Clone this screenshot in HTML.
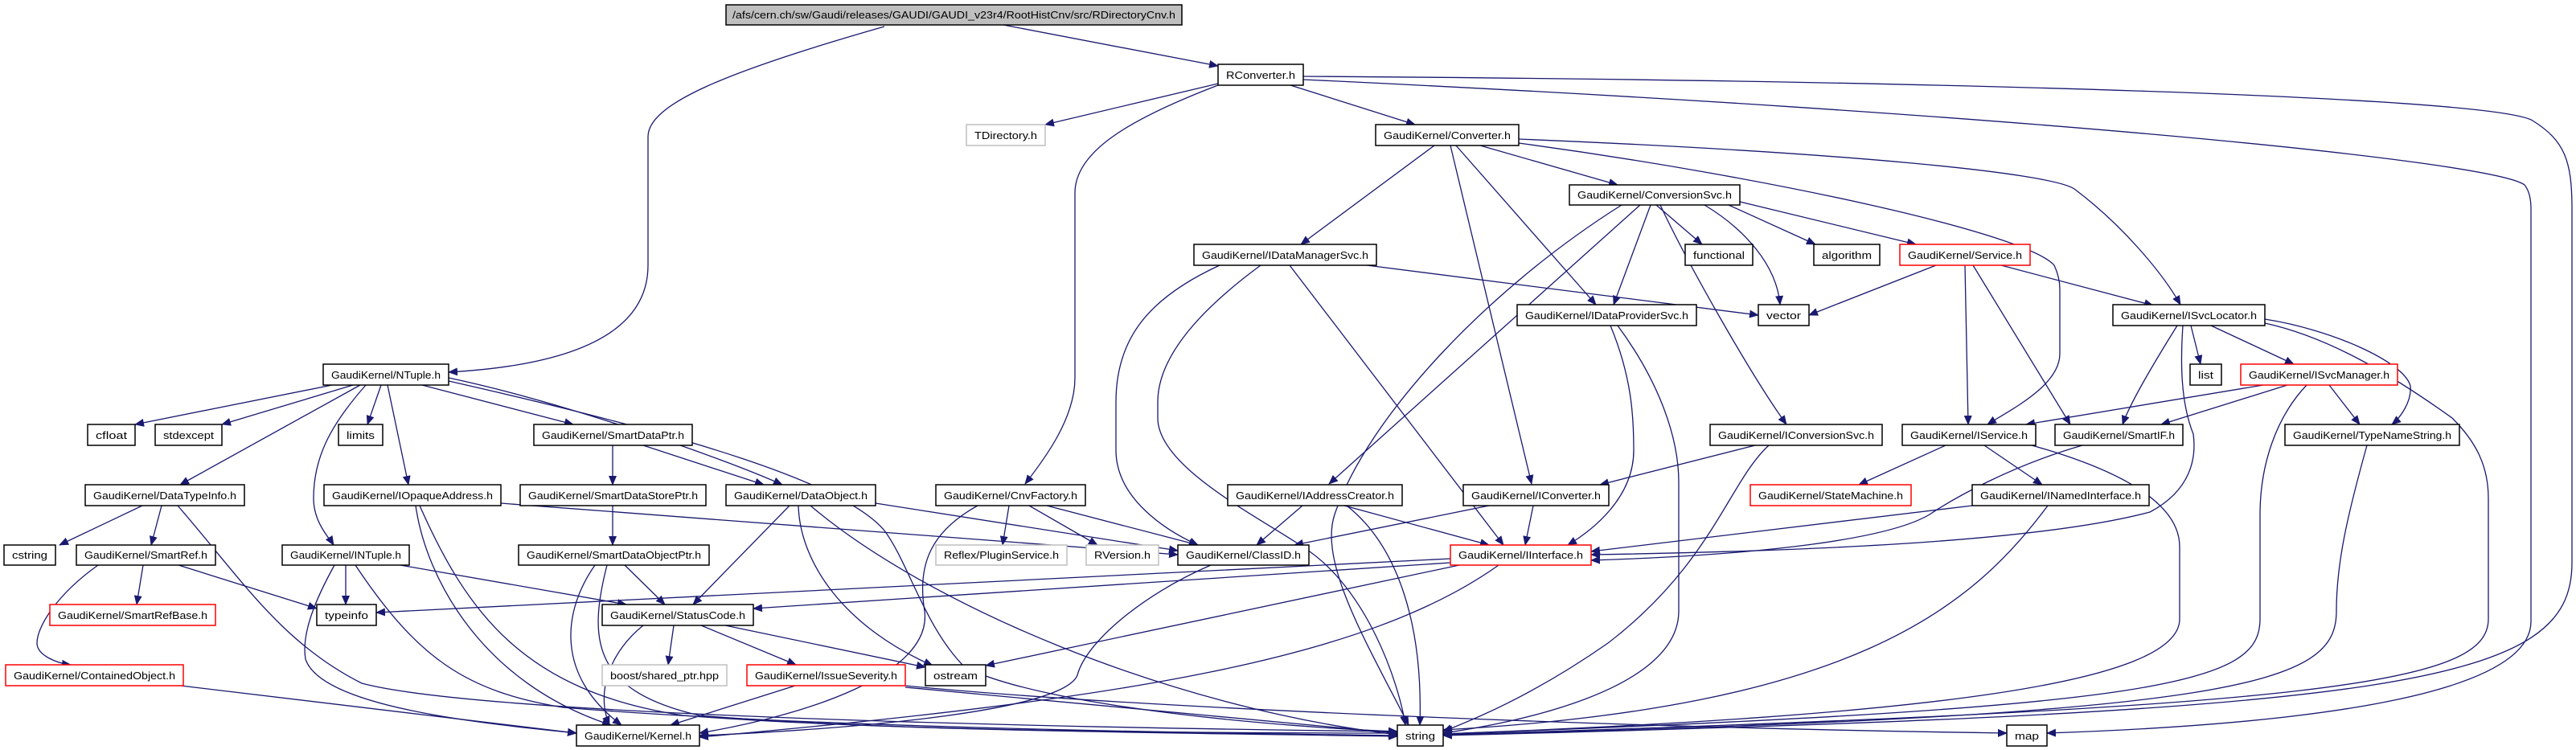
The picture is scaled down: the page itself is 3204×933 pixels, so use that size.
<!DOCTYPE html>
<html><head><meta charset="utf-8"><style>
html,body{margin:0;padding:0;background:#fff;}
svg{display:block;}
text{font-family:"Liberation Sans",sans-serif;font-size:13px;fill:#000;}
</style></head><body>
<svg width="3204" height="933" viewBox="0 0 3204 933" xmlns="http://www.w3.org/2000/svg">
<defs>
<marker id="a" markerWidth="12" markerHeight="10" refX="11" refY="5" orient="auto" markerUnits="userSpaceOnUse">
<path d="M0,0 L12,5 L0,10 Z" fill="#191970"/>
</marker>
</defs>
<g fill="none" stroke="#191970" stroke-width="1.3" marker-end="url(#a)">
<path d="M1248,31 L1515,82"/>
<path d="M1100,33 C900,90 806,130 806,170 L806,330 C806,420 700,455 558,463"/>
<path d="M1515,104 L1300,155"/>
<path d="M1605,106 L1760,155"/>
<path d="M1515,106 C1400,150 1337,190 1337,240 L1337,470 C1337,520 1300,570 1275,602"/>
<path d="M1621,95 C2400,100 3100,120 3150,150 C3190,175 3199,200 3199,260 L3199,700 C3199,850 3000,885 1795,915"/>
<path d="M1621,99 C2500,140 3100,200 3140,230 Q3148,240 3148,260 L3148,773 C3148,860 2900,900 2546,912"/>
<path d="M1841,181 L2012,230"/>
<path d="M1784,181 L1618,304"/>
<path d="M1811,181 L1985,379"/>
<path d="M1804,181 L1905,602"/>
<path d="M1889,173 C2300,190 2550,215 2580,235 C2640,280 2690,340 2712,379"/>
<path d="M1889,178 C2200,220 2520,290 2555,330 Q2562,345 2562,360 L2562,440 C2562,480 2500,510 2472,528"/>
<path d="M2060,255 L2117,304"/>
<path d="M2150,255 L2258,304"/>
<path d="M2160,250 L2383,304"/>
<path d="M2120,255 C2170,285 2210,330 2214,379"/>
<path d="M2053,255 L2007,379"/>
<path d="M2040,255 L1653,602"/>
<path d="M2065,255 C2100,330 2180,470 2222,528"/>
<path d="M2017,255 C1850,360 1700,520 1660,640 C1640,700 1700,800 1752,902"/>
<path d="M1700,330 L2187,392"/>
<path d="M1517,330 C1430,370 1388,420 1388,500 L1388,560 C1388,620 1450,660 1490,678"/>
<path d="M1568,330 C1500,380 1440,440 1440,500 L1440,520 C1440,580 1560,640 1620,680 C1700,730 1740,850 1748,902"/>
<path d="M1604,330 L1870,678"/>
<path d="M2003,405 C2030,470 2032,520 2032,560 C2032,620 1980,660 1950,678"/>
<path d="M2012,405 C2060,470 2088,540 2088,600 L2088,760 C2088,860 1880,900 1795,912"/>
<path d="M2408,330 L2250,392"/>
<path d="M2489,330 L2678,380"/>
<path d="M2444,330 L2448,528"/>
<path d="M2454,330 L2575,528"/>
<path d="M2725,405 L2737,453"/>
<path d="M2750,405 L2853,453"/>
<path d="M2708,405 C2680,450 2650,500 2640,528"/>
<path d="M2715,405 C2712,450 2712,500 2728,540 C2732,570 2725,610 2674,637 C2550,670 2300,685 1979,690"/>
<path d="M2817,397 C2900,410 2990,450 2998,480 C3000,500 2985,520 2975,528"/>
<path d="M2817,402 C2900,420 2980,470 3050,520 C3080,550 3095,580 3095,620 L3095,770 C3095,850 2900,880 1795,914"/>
<path d="M2815,479 L2520,528"/>
<path d="M2845,479 L2688,528"/>
<path d="M2897,479 L2935,528"/>
<path d="M2869,479 C2830,520 2811,580 2811,640 L2811,770 C2811,850 2700,880 1795,913"/>
<path d="M2183,554 L1990,603"/>
<path d="M2200,554 C2150,600 2130,700 2000,800 C1900,870 1820,900 1795,910"/>
<path d="M2420,554 L2312,603"/>
<path d="M2468,554 L2540,603"/>
<path d="M2527,554 C2620,580 2711,620 2711,680 L2711,770 C2711,850 2400,890 1795,913"/>
<path d="M2590,554 C2500,580 2430,620 2400,640 C2350,670 2200,690 1979,697"/>
<path d="M2453,629 L1979,686"/>
<path d="M2547,629 C2450,760 2300,880 1795,908"/>
<path d="M2944,554 C2920,640 2906,700 2906,760 C2906,850 2800,890 1795,914"/>
<path d="M1852,629 L1610,678"/>
<path d="M1907,629 L1897,678"/>
<path d="M1620,629 L1563,678"/>
<path d="M1672,629 L1852,678"/>
<path d="M1675,629 C1740,680 1770,780 1766,902"/>
<path d="M1255,629 L1247,678"/>
<path d="M1280,629 L1365,678"/>
<path d="M1302,629 L1490,678"/>
<path d="M1216,629 C1160,660 1140,700 1150,760 C1160,840 1000,890 870,912"/>
<path d="M1506,703 C1420,740 1350,800 1340,840 C1320,890 1000,910 870,915"/>
<path d="M1804,695 L468,762"/>
<path d="M1804,700 L937,757"/>
<path d="M1815,703 L1226,828"/>
<path d="M1864,703 C1700,820 1400,870 870,917"/>
<path d="M413,479 L168,528"/>
<path d="M439,479 L276,528"/>
<path d="M448,479 L224,603"/>
<path d="M455,479 C410,530 390,570 390,620 C390,650 410,670 415,678"/>
<path d="M474,479 L457,528"/>
<path d="M482,479 L508,603"/>
<path d="M525,479 L713,528"/>
<path d="M558,470 C700,500 900,570 973,603"/>
<path d="M558,474 C850,540 1050,600 1100,660 C1130,700 1150,780 1200,830 C1300,880 1600,905 1738,910"/>
<path d="M762,554 L762,603"/>
<path d="M800,554 L950,603"/>
<path d="M762,629 L762,678"/>
<path d="M177,629 L74,678"/>
<path d="M201,629 L188,678"/>
<path d="M221,629 C300,720 350,800 450,850 C600,890 1300,905 1738,910"/>
<path d="M623,626 L1465,690"/>
<path d="M517,629 C530,720 600,850 760,902"/>
<path d="M522,629 C580,760 650,860 850,890 C1100,910 1500,912 1738,912"/>
<path d="M982,629 L862,752"/>
<path d="M1089,626 L1465,685"/>
<path d="M993,629 C995,700 1050,780 1160,828"/>
<path d="M1008,629 C1150,750 1450,880 1738,914"/>
<path d="M178,703 L170,752"/>
<path d="M222,703 L394,757"/>
<path d="M122,703 C70,740 46,780 46,800 C46,815 70,825 88,827"/>
<path d="M430,703 L430,752"/>
<path d="M498,703 L779,752"/>
<path d="M416,703 C390,750 375,790 380,820 C400,880 600,900 717,912"/>
<path d="M442,703 C520,820 580,860 700,880 C1000,905 1500,912 1738,915"/>
<path d="M777,703 L827,752"/>
<path d="M740,703 C700,760 690,840 773,902"/>
<path d="M755,703 C730,800 740,860 870,890 C1100,910 1500,912 1738,916"/>
<path d="M838,778 L831,827"/>
<path d="M872,778 L990,827"/>
<path d="M902,778 L1151,830"/>
<path d="M800,778 C760,810 740,860 758,902"/>
<path d="M989,853 L834,902"/>
<path d="M1126,853 C1400,880 2000,905 2496,912"/>
<path d="M1126,855 L1738,912"/>
<path d="M225,853 L717,912"/>
</g>
<g stroke-width="1.5">
<rect x="903" y="6" width="567" height="25" fill="#bfbfbf" stroke="#000"/>
<text x="911" y="23" textLength="551" lengthAdjust="spacingAndGlyphs">/afs/cern.ch/sw/Gaudi/releases/GAUDI/GAUDI_v23r4/RootHistCnv/src/RDirectoryCnv.h</text>
</g>
<g fill="#fff" stroke="#000" stroke-width="1.5">
<rect x="1515" y="80" width="106" height="26"/>
<rect x="1711" y="155" width="178" height="26"/>
<rect x="1952" y="230" width="212" height="25"/>
<rect x="1485" y="304" width="227" height="26"/>
<rect x="2096" y="304" width="84" height="26"/>
<rect x="2256" y="304" width="82" height="26"/>
<rect x="1887" y="379" width="223" height="26"/>
<rect x="2187" y="379" width="63" height="26"/>
<rect x="2628" y="379" width="189" height="26"/>
<rect x="402" y="453" width="156" height="26"/>
<rect x="2724" y="453" width="39" height="26"/>
<rect x="109" y="528" width="59" height="26"/>
<rect x="193" y="528" width="83" height="26"/>
<rect x="421" y="528" width="55" height="26"/>
<rect x="664" y="528" width="197" height="26"/>
<rect x="2127" y="528" width="214" height="26"/>
<rect x="2366" y="528" width="166" height="26"/>
<rect x="2556" y="528" width="159" height="26"/>
<rect x="2842" y="528" width="217" height="26"/>
<rect x="106" y="603" width="198" height="26"/>
<rect x="403" y="603" width="220" height="26"/>
<rect x="647" y="603" width="231" height="26"/>
<rect x="903" y="603" width="186" height="26"/>
<rect x="1164" y="603" width="186" height="26"/>
<rect x="1527" y="603" width="217" height="26"/>
<rect x="1820" y="603" width="181" height="26"/>
<rect x="2453" y="603" width="220" height="26"/>
<rect x="5" y="678" width="64" height="25"/>
<rect x="95" y="678" width="173" height="25"/>
<rect x="351" y="678" width="158" height="25"/>
<rect x="645" y="678" width="237" height="25"/>
<rect x="1465" y="678" width="163" height="25"/>
<rect x="394" y="752" width="74" height="26"/>
<rect x="749" y="752" width="188" height="26"/>
<rect x="1151" y="827" width="75" height="26"/>
<rect x="717" y="902" width="153" height="26"/>
<rect x="1738" y="902" width="57" height="26"/>
<rect x="2496" y="902" width="50" height="26"/>
</g>
<g fill="#fff" stroke="#ff0000" stroke-width="1.5">
<rect x="2363" y="304" width="162" height="26"/>
<rect x="2787" y="453" width="195" height="26"/>
<rect x="2177" y="603" width="200" height="26"/>
<rect x="1804" y="678" width="175" height="25"/>
<rect x="62" y="752" width="206" height="26"/>
<rect x="7" y="827" width="221" height="26"/>
<rect x="929" y="827" width="197" height="26"/>
</g>
<g fill="#fff" stroke="#bfbfbf" stroke-width="1.5">
<rect x="1202" y="155" width="98" height="26"/>
<rect x="1164" y="678" width="163" height="25"/>
<rect x="1351" y="678" width="90" height="25"/>
<rect x="749" y="827" width="155" height="26"/>
</g>
<g>
<text x="1525" y="98" textLength="86" lengthAdjust="spacingAndGlyphs">RConverter.h</text>
<text x="1212" y="173" textLength="78" lengthAdjust="spacingAndGlyphs">TDirectory.h</text>
<text x="1721" y="173" textLength="158" lengthAdjust="spacingAndGlyphs">GaudiKernel/Converter.h</text>
<text x="1962" y="247" textLength="192" lengthAdjust="spacingAndGlyphs">GaudiKernel/ConversionSvc.h</text>
<text x="1495" y="322" textLength="207" lengthAdjust="spacingAndGlyphs">GaudiKernel/IDataManagerSvc.h</text>
<text x="2106" y="322" textLength="64" lengthAdjust="spacingAndGlyphs">functional</text>
<text x="2266" y="322" textLength="62" lengthAdjust="spacingAndGlyphs">algorithm</text>
<text x="2373" y="322" textLength="142" lengthAdjust="spacingAndGlyphs">GaudiKernel/Service.h</text>
<text x="1897" y="397" textLength="203" lengthAdjust="spacingAndGlyphs">GaudiKernel/IDataProviderSvc.h</text>
<text x="2197" y="397" textLength="43" lengthAdjust="spacingAndGlyphs">vector</text>
<text x="2638" y="397" textLength="169" lengthAdjust="spacingAndGlyphs">GaudiKernel/ISvcLocator.h</text>
<text x="412" y="471" textLength="136" lengthAdjust="spacingAndGlyphs">GaudiKernel/NTuple.h</text>
<text x="2734" y="471" textLength="19" lengthAdjust="spacingAndGlyphs">list</text>
<text x="2797" y="471" textLength="175" lengthAdjust="spacingAndGlyphs">GaudiKernel/ISvcManager.h</text>
<text x="119" y="546" textLength="39" lengthAdjust="spacingAndGlyphs">cfloat</text>
<text x="203" y="546" textLength="63" lengthAdjust="spacingAndGlyphs">stdexcept</text>
<text x="431" y="546" textLength="35" lengthAdjust="spacingAndGlyphs">limits</text>
<text x="674" y="546" textLength="177" lengthAdjust="spacingAndGlyphs">GaudiKernel/SmartDataPtr.h</text>
<text x="2137" y="546" textLength="194" lengthAdjust="spacingAndGlyphs">GaudiKernel/IConversionSvc.h</text>
<text x="2376" y="546" textLength="146" lengthAdjust="spacingAndGlyphs">GaudiKernel/IService.h</text>
<text x="2566" y="546" textLength="139" lengthAdjust="spacingAndGlyphs">GaudiKernel/SmartIF.h</text>
<text x="2852" y="546" textLength="197" lengthAdjust="spacingAndGlyphs">GaudiKernel/TypeNameString.h</text>
<text x="116" y="621" textLength="178" lengthAdjust="spacingAndGlyphs">GaudiKernel/DataTypeInfo.h</text>
<text x="413" y="621" textLength="200" lengthAdjust="spacingAndGlyphs">GaudiKernel/IOpaqueAddress.h</text>
<text x="657" y="621" textLength="211" lengthAdjust="spacingAndGlyphs">GaudiKernel/SmartDataStorePtr.h</text>
<text x="913" y="621" textLength="166" lengthAdjust="spacingAndGlyphs">GaudiKernel/DataObject.h</text>
<text x="1174" y="621" textLength="166" lengthAdjust="spacingAndGlyphs">GaudiKernel/CnvFactory.h</text>
<text x="1537" y="621" textLength="197" lengthAdjust="spacingAndGlyphs">GaudiKernel/IAddressCreator.h</text>
<text x="1830" y="621" textLength="161" lengthAdjust="spacingAndGlyphs">GaudiKernel/IConverter.h</text>
<text x="2187" y="621" textLength="180" lengthAdjust="spacingAndGlyphs">GaudiKernel/StateMachine.h</text>
<text x="2463" y="621" textLength="200" lengthAdjust="spacingAndGlyphs">GaudiKernel/INamedInterface.h</text>
<text x="15" y="695" textLength="44" lengthAdjust="spacingAndGlyphs">cstring</text>
<text x="105" y="695" textLength="153" lengthAdjust="spacingAndGlyphs">GaudiKernel/SmartRef.h</text>
<text x="361" y="695" textLength="138" lengthAdjust="spacingAndGlyphs">GaudiKernel/INTuple.h</text>
<text x="655" y="695" textLength="217" lengthAdjust="spacingAndGlyphs">GaudiKernel/SmartDataObjectPtr.h</text>
<text x="1174" y="695" textLength="143" lengthAdjust="spacingAndGlyphs">Reflex/PluginService.h</text>
<text x="1361" y="695" textLength="70" lengthAdjust="spacingAndGlyphs">RVersion.h</text>
<text x="1475" y="695" textLength="143" lengthAdjust="spacingAndGlyphs">GaudiKernel/ClassID.h</text>
<text x="1814" y="695" textLength="155" lengthAdjust="spacingAndGlyphs">GaudiKernel/IInterface.h</text>
<text x="72" y="770" textLength="186" lengthAdjust="spacingAndGlyphs">GaudiKernel/SmartRefBase.h</text>
<text x="404" y="770" textLength="54" lengthAdjust="spacingAndGlyphs">typeinfo</text>
<text x="759" y="770" textLength="168" lengthAdjust="spacingAndGlyphs">GaudiKernel/StatusCode.h</text>
<text x="17" y="845" textLength="201" lengthAdjust="spacingAndGlyphs">GaudiKernel/ContainedObject.h</text>
<text x="759" y="845" textLength="135" lengthAdjust="spacingAndGlyphs">boost/shared_ptr.hpp</text>
<text x="939" y="845" textLength="177" lengthAdjust="spacingAndGlyphs">GaudiKernel/IssueSeverity.h</text>
<text x="1161" y="845" textLength="55" lengthAdjust="spacingAndGlyphs">ostream</text>
<text x="727" y="920" textLength="133" lengthAdjust="spacingAndGlyphs">GaudiKernel/Kernel.h</text>
<text x="1748" y="920" textLength="37" lengthAdjust="spacingAndGlyphs">string</text>
<text x="2506" y="920" textLength="30" lengthAdjust="spacingAndGlyphs">map</text>
</g>
</svg>
</body></html>
